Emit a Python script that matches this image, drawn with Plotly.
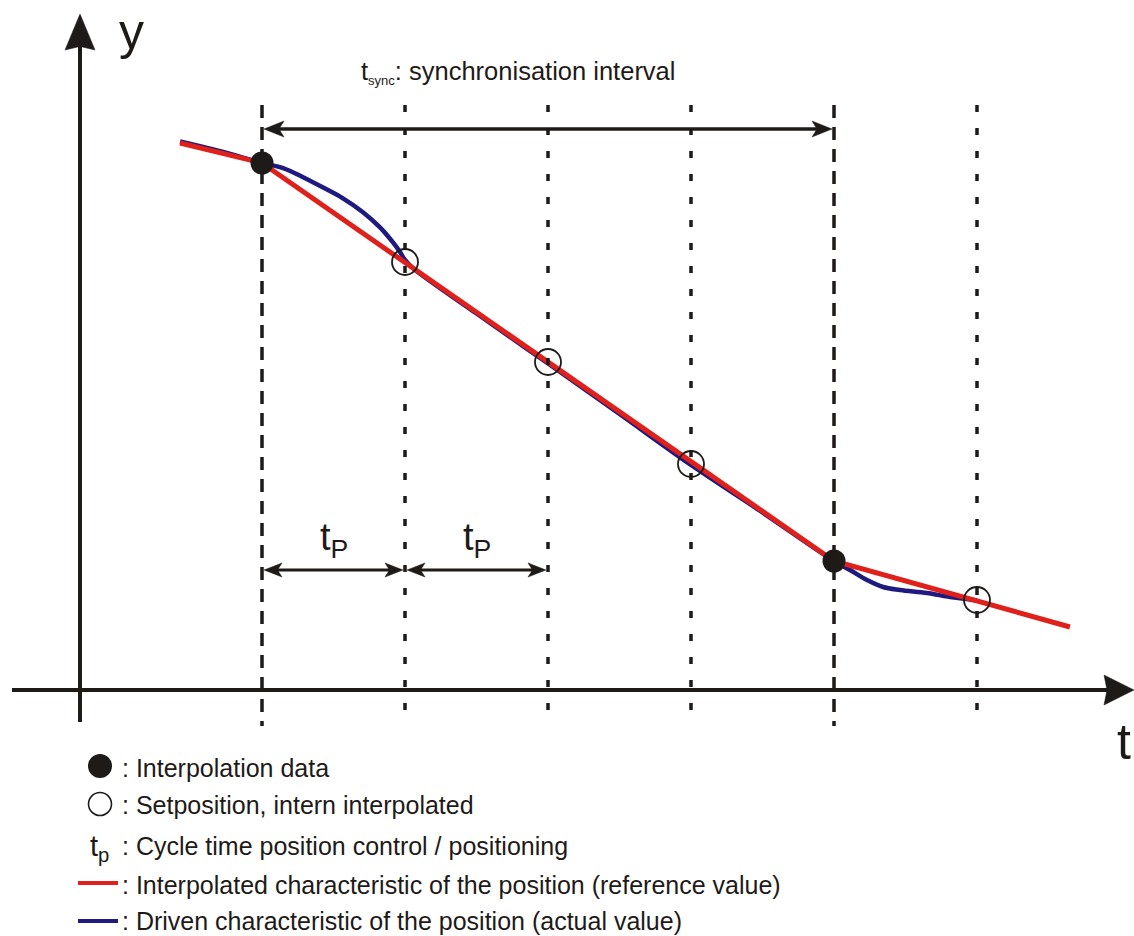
import plotly.graph_objects as go

# ---------------- data (t in cycle units t_P, y in position units) ----------------
cycle_t = [0, 1, 2, 3, 4, 5]
sync_t = [0, 4]
interp_t = [0, 4]
interp_y = [5.27, 1.29]
setpos_t = [1, 2, 3, 5]
setpos_y = [4.28, 3.28, 2.26, 0.90]
ref_t = [-0.573, 0, 4, 5.65]
ref_y = [5.47, 5.27, 1.29, 0.63]
act_t = [-0.573, -0.30, 0, 0.147, 0.287, 0.427, 0.566, 0.706, 0.825, 0.916, 0.965, 1.0, 1.05,
         1.5, 2.0, 2.5, 3.0, 3.5, 4.0, 4.112, 4.231, 4.343, 4.462, 4.65, 4.811, 4.93, 5.0]
act_y = [5.485, 5.39, 5.27, 5.219, 5.128, 5.025, 4.917, 4.778, 4.626, 4.476, 4.38, 4.30, 4.225,
         3.765, 3.265, 2.76, 2.25, 1.775, 1.29, 1.20, 1.10, 1.03, 1.00, 0.97, 0.93, 0.91, 0.895]

legend_labels = [": Interpolation data", ": Setposition, intern interpolated",
                 ": Cycle time position control / positioning",
                 ": Interpolated characteristic of the position (reference value)",
                 ": Driven characteristic of the position (actual value)"]

RED = "#e0201b"
BLUE = "#1f1a80"
BLACK = "#1e1a18"
FONT = "Liberation Sans, Arial, sans-serif"

# pixel helpers for decoration geometry (1 t unit = 143 px, 1 y unit = 100 px)
SX, SY = 143.0, 100.0
X0, Y0 = 262.0, 690.0
W, H = 1134, 936
def X(px): return (px - X0) / SX
def Y(py): return (Y0 - py) / SY
def PX(t): return X0 + t * SX
def PY(y): return Y0 - y * SY

fig = go.Figure()
shapes = []
annotations = []

# vertical cycle lines
for t in cycle_t:
    long = t in sync_t
    shapes.append(dict(type="line", xref="x", yref="y", x0=t, x1=t, y0=Y(105), y1=Y(726),
                       line=dict(color=BLACK, width=3.5, dash="13px,9px" if long else "7px,16px")))

def head(tip_px, tip_py, dx, dy, L, Wd, notch=0.75):
    bx, by = tip_px - dx * L, tip_py - dy * L
    nx, ny = -dy, dx
    p1 = (bx + nx * Wd, by + ny * Wd)
    p2 = (bx - nx * Wd, by - ny * Wd)
    pn = (tip_px - dx * L * notch, tip_py - dy * L * notch)
    pts = [(tip_px, tip_py), p1, pn, p2]
    path = "M " + " L ".join(f"{X(a):.5f},{Y(b):.5f}" for a, b in pts) + " Z"
    return dict(type="path", xref="x", yref="y", path=path, fillcolor=BLACK,
                line=dict(color=BLACK, width=0.5))

# axes
ax_t = X(80)
shapes.append(dict(type="line", xref="x", yref="y", x0=ax_t, x1=ax_t, y0=Y(722), y1=Y(40),
                   line=dict(color=BLACK, width=4)))
shapes.append(head(80, 14, 0, -1, 36, 15, notch=0.9))
shapes.append(dict(type="line", xref="x", yref="y", x0=X(12), x1=X(1110), y0=0, y1=0,
                   line=dict(color=BLACK, width=4)))
shapes.append(head(1134, 690, 1, 0, 30, 15, notch=0.9))

# synchronisation interval arrow
ys = Y(129)
shapes.append(dict(type="line", xref="x", yref="y", x0=X(PX(sync_t[0]) + 10), x1=X(PX(sync_t[1]) - 10),
                   y0=ys, y1=ys, line=dict(color=BLACK, width=3.5)))
shapes.append(head(PX(sync_t[0]) + 2, 129, -1, 0, 20, 8))
shapes.append(head(PX(sync_t[1]) - 2, 129, 1, 0, 20, 8))

# t_P arrows
yp = Y(570)
for a, b in [(cycle_t[0], cycle_t[1]), (cycle_t[1], cycle_t[2])]:
    shapes.append(dict(type="line", xref="x", yref="y", x0=X(PX(a) + 8), x1=X(PX(b) - 8),
                       y0=yp, y1=yp, line=dict(color=BLACK, width=3)))
    shapes.append(head(PX(a) + 2, 570, -1, 0, 18, 7))
    shapes.append(head(PX(b) - 2, 570, 1, 0, 18, 7))
    annotations.append(dict(x=(a + b) / 2, y=Y(540), xref="x", yref="y", showarrow=False,
                            text="t<sub>P</sub>", font=dict(family=FONT, size=38, color=BLACK),
                            xanchor="center", yanchor="middle"))

# curves
fig.add_trace(go.Scatter(x=act_t, y=act_y, mode="lines",
                         line=dict(color=BLUE, width=4.5, shape="spline", smoothing=1.0),
                         hoverinfo="skip", showlegend=False))
fig.add_trace(go.Scatter(x=ref_t, y=ref_y, mode="lines", line=dict(color=RED, width=5),
                         hoverinfo="skip", showlegend=False))
fig.add_trace(go.Scatter(x=setpos_t, y=setpos_y, mode="markers",
                         marker=dict(symbol="circle-open", size=26, color=BLACK, line=dict(width=1.8, color=BLACK)),
                         hoverinfo="skip", showlegend=False))
fig.add_trace(go.Scatter(x=interp_t, y=interp_y, mode="markers",
                         marker=dict(symbol="circle", size=23, color=BLACK),
                         hoverinfo="skip", showlegend=False))

# legend keys (drawn manually)
fig.add_trace(go.Scatter(x=[X(100)], y=[Y(766)], mode="markers",
                         marker=dict(symbol="circle", size=24, color=BLACK),
                         hoverinfo="skip", showlegend=False))
fig.add_trace(go.Scatter(x=[X(100)], y=[Y(804)], mode="markers",
                         marker=dict(symbol="circle-open", size=23, color=BLACK, line=dict(width=1.6, color=BLACK)),
                         hoverinfo="skip", showlegend=False))
shapes.append(dict(type="line", xref="x", yref="y", x0=X(78), x1=X(118), y0=Y(883), y1=Y(883),
                   line=dict(color=RED, width=4)))
shapes.append(dict(type="line", xref="x", yref="y", x0=X(78), x1=X(118), y0=Y(921), y1=Y(921),
                   line=dict(color=BLUE, width=4)))
annotations.append(dict(x=X(99), y=Y(848), xref="x", yref="y", showarrow=False,
                        text="t<sub>p</sub>", font=dict(family=FONT, size=29, color=BLACK),
                        xanchor="center", yanchor="middle"))
leg_y = [768, 805, 846, 885, 921]
for lab, py in zip(legend_labels, leg_y):
    annotations.append(dict(x=X(120), y=Y(py), xref="x", yref="y", showarrow=False,
                            text=lab, font=dict(family=FONT, size=25, color=BLACK),
                            xanchor="left", yanchor="middle"))

# titles
annotations.append(dict(x=X(359), y=Y(72), xref="x", yref="y", showarrow=False,
                        text="t<sub><span style='font-size:13px'>sync</span></sub>: synchronisation interval",
                        font=dict(family=FONT, size=25.5, color=BLACK), xanchor="left", yanchor="middle"))
annotations.append(dict(x=X(131), y=Y(32), xref="x", yref="y", showarrow=False, text="y",
                        font=dict(family=FONT, size=50, color=BLACK), xanchor="center", yanchor="middle"))
annotations.append(dict(x=X(1124), y=Y(742), xref="x", yref="y", showarrow=False, text="t",
                        font=dict(family=FONT, size=50, color=BLACK), xanchor="center", yanchor="middle"))

fig.update_layout(
    width=W, height=H, margin=dict(l=0, r=0, t=0, b=0),
    paper_bgcolor="white", plot_bgcolor="white",
    xaxis=dict(range=[X(0), X(W)], visible=False, fixedrange=True),
    yaxis=dict(range=[Y(H), Y(0)], visible=False, fixedrange=True),
    shapes=shapes, annotations=annotations, showlegend=False,
)
fig.write_html("out.html", config={"displayModeBar": False},
               post_script="document.body.style.margin='0';document.body.style.overflow='hidden';"
                           "document.documentElement.style.overflow='hidden';")
